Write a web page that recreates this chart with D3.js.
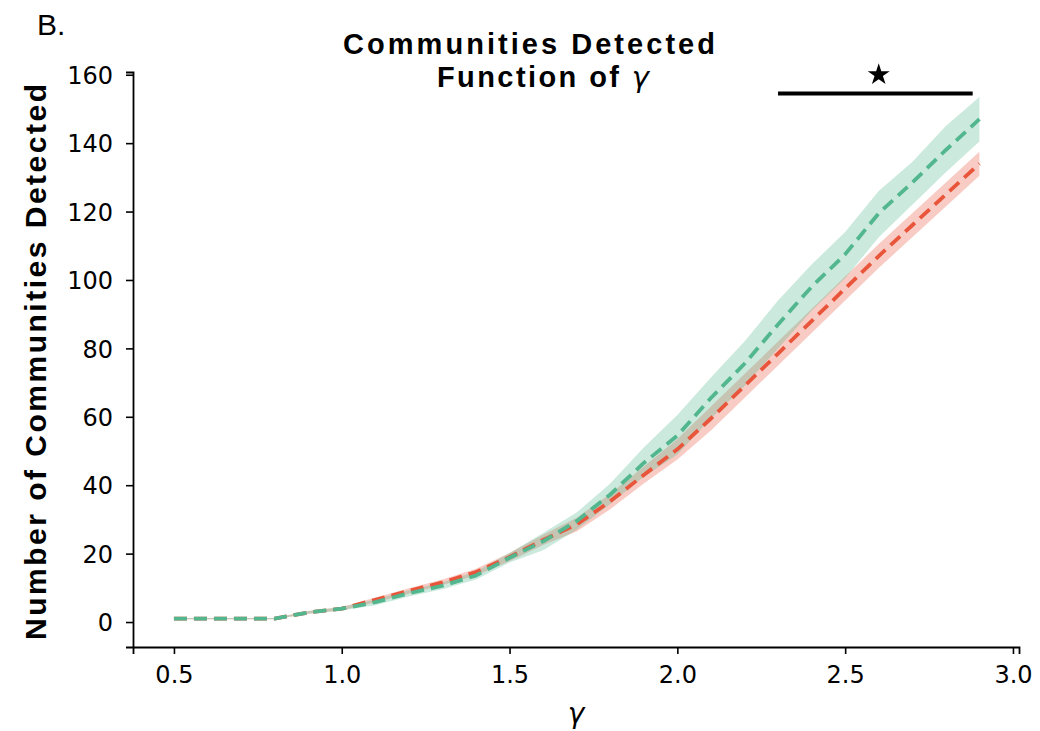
<!DOCTYPE html>
<html>
<head>
<meta charset="utf-8">
<script src="https://cdn.jsdelivr.net/npm/d3@7"></script>
<style>
  html, body { margin: 0; padding: 0; background: #fff; }
  svg { display: block; }
</style>
</head>
<body>
<svg id="chart" width="1040" height="731"></svg>
<script>
// ---- data ----
const gammaValues = [0.5,0.6,0.7,0.8,0.9,1.0,1.1,1.2,1.3,1.4,1.5,1.6,1.7,1.8,1.9,2.0,2.1,2.2,2.3,2.4,2.5,2.6,2.7,2.8,2.9];

const greenMean = [1,1,1,1,2.8,3.9,5.8,8.4,10.6,13.6,18.8,23.6,29.5,37.3,46.5,54.5,65.5,75.5,87,98,107.5,119.5,128.5,138,147];
const greenLow  = [0.8,0.8,0.8,0.8,2.4,3.4,4.9,7.5,9.6,12.4,17.4,21,27,34.5,42.5,49,59.5,69,80,91,100.5,112.5,122,131.5,140.5];
const greenHigh = [1.2,1.2,1.2,1.2,3.2,4.4,6.6,9.3,11.6,14.8,20.2,26,32,40.5,51,60.5,71.5,82,94,104.5,114,126,134.5,145,153.5];

const redMean = [1,1,1,1,2.8,3.9,6.5,9.1,11.6,14.6,19,24,28.5,35.3,43,50.5,59.5,69,78.5,88,97.5,107,116,125,134];
const redLow  = [0.8,0.8,0.8,0.8,2.4,3.4,5.8,8.3,10.8,13.6,17.8,22.5,26.5,33,40.5,47.5,56,65.5,75,84.5,94,103.5,112.5,121.5,130.5];
const redHigh = [1.2,1.2,1.2,1.2,3.2,4.4,7.2,9.9,12.4,15.6,20.2,25.5,30.5,37.5,45.5,53.5,63,72.5,82,91.5,101,110.5,119.5,128.5,137.5];

const xTicks = [0.5,1.0,1.5,2.0,2.5,3.0];
const yTicks = [0,20,40,60,80,100,120,140,160];

const sigStart = 2.3, sigEnd = 2.88, sigLevel = 154.5, starLevel = 160;

const titleLines = ["Communities Detected", "Function of "];
const yLabel = "Number of Communities Detected";
const xLabel = "γ";
const panelLabel = "B.";
const nextPanelLabel = "C.";

// ---- layout ----
const svg = d3.select("#chart");
const x = d3.scaleLinear().domain([0.378, 3.018]).range([133, 1019]);
const y = d3.scaleLinear().domain([-7.3, 160.8]).range([647, 72]);

const green = "#52b68e", red = "#e8553a";

function series(mean, lo, hi) {
  return gammaValues.map((g, i) => ({g, m: mean[i], lo: lo[i], hi: hi[i]}));
}
const sRed = series(redMean, redLow, redHigh);
const sGreen = series(greenMean, greenLow, greenHigh);

const area = d3.area().x(d => x(d.g)).y0(d => y(d.lo)).y1(d => y(d.hi));
const line = d3.line().x(d => x(d.g)).y(d => y(d.m));

const plot = svg.append("g");
plot.append("path").datum(sRed).attr("d", area).attr("fill", red).attr("fill-opacity", 0.3);
plot.append("path").datum(sGreen).attr("d", area).attr("fill", green).attr("fill-opacity", 0.3);
plot.append("path").datum(sRed).attr("d", line).attr("fill", "none").attr("stroke", red)
  .attr("stroke-width", 3.8).attr("stroke-dasharray", "13,7");
plot.append("path").datum(sGreen).attr("d", line).attr("fill", "none").attr("stroke", green)
  .attr("stroke-width", 3.8).attr("stroke-dasharray", "13,7");

// axes
const xAxis = svg.append("g").attr("transform", "translate(0,647)")
  .call(d3.axisBottom(x).tickValues(xTicks).tickFormat(d3.format(".1f")).tickSizeOuter(0).tickSize(7).tickPadding(9));
const yAxis = svg.append("g").attr("transform", "translate(133,0)")
  .call(d3.axisLeft(y).tickValues(yTicks).tickFormat(d3.format("d")).tickSizeOuter(0).tickSize(7).tickPadding(13));
[xAxis, yAxis].forEach(a => {
  a.select(".domain").attr("stroke", "#000").attr("stroke-width", 1.8);
  a.selectAll(".tick line").attr("stroke", "#000").attr("stroke-width", 1.6);
  a.selectAll(".tick text").attr("font-family", "DejaVu Sans").attr("font-size", 24).attr("fill", "#000");
});
xAxis.selectAll(".tick text").attr("dy", "0.85em");
yAxis.selectAll(".tick text").attr("dy", "0.36em");

// significance bar
svg.append("line").attr("x1", x(sigStart)).attr("x2", x(sigEnd))
  .attr("y1", y(sigLevel)).attr("y2", y(sigLevel)).attr("stroke", "#000").attr("stroke-width", 4);
svg.append("path")
  .attr("d", d3.symbol().type(d3.symbolStar).size(150)())
  .attr("transform", `translate(${x((sigStart + sigEnd) / 2 + 0.01)},${y(starLevel)})`)
  .attr("fill", "#000");

// title
const tfont = "Liberation Sans, Arial, sans-serif";
svg.append("text").attr("x", 529).attr("y", 54).attr("text-anchor", "middle")
  .attr("font-family", tfont).attr("font-weight", "bold").attr("font-size", 29)
  .attr("textLength", 372).attr("lengthAdjust", "spacing").text(titleLines[0]);
const t2 = svg.append("text").attr("x", 543).attr("y", 87).attr("text-anchor", "middle")
  .attr("font-family", tfont).attr("font-weight", "bold").attr("font-size", 29);
t2.append("tspan").text(titleLines[1]);
t2.append("tspan").attr("font-weight", "normal").attr("font-style", "italic").attr("font-family", "DejaVu Sans").text(xLabel);
t2.attr("textLength", 212).attr("lengthAdjust", "spacing");

// y label
svg.append("text").attr("transform", "translate(46,362) rotate(-90)").attr("text-anchor", "middle")
  .attr("font-family", tfont).attr("font-weight", "bold").attr("font-size", 30)
  .attr("textLength", 556).attr("lengthAdjust", "spacing").text(yLabel);

// x label
svg.append("text").attr("x", 576).attr("y", 723).attr("text-anchor", "middle")
  .attr("font-family", "DejaVu Sans").attr("font-style", "italic").attr("font-size", 28).text(xLabel);

// panel labels
svg.append("text").attr("x", 37).attr("y", 35).attr("font-family", tfont).attr("font-size", 30).text(panelLabel);
svg.append("text").attr("x", 45).attr("y", 752).attr("font-family", tfont).attr("font-size", 30).text(nextPanelLabel);
</script>
</body>
</html>
